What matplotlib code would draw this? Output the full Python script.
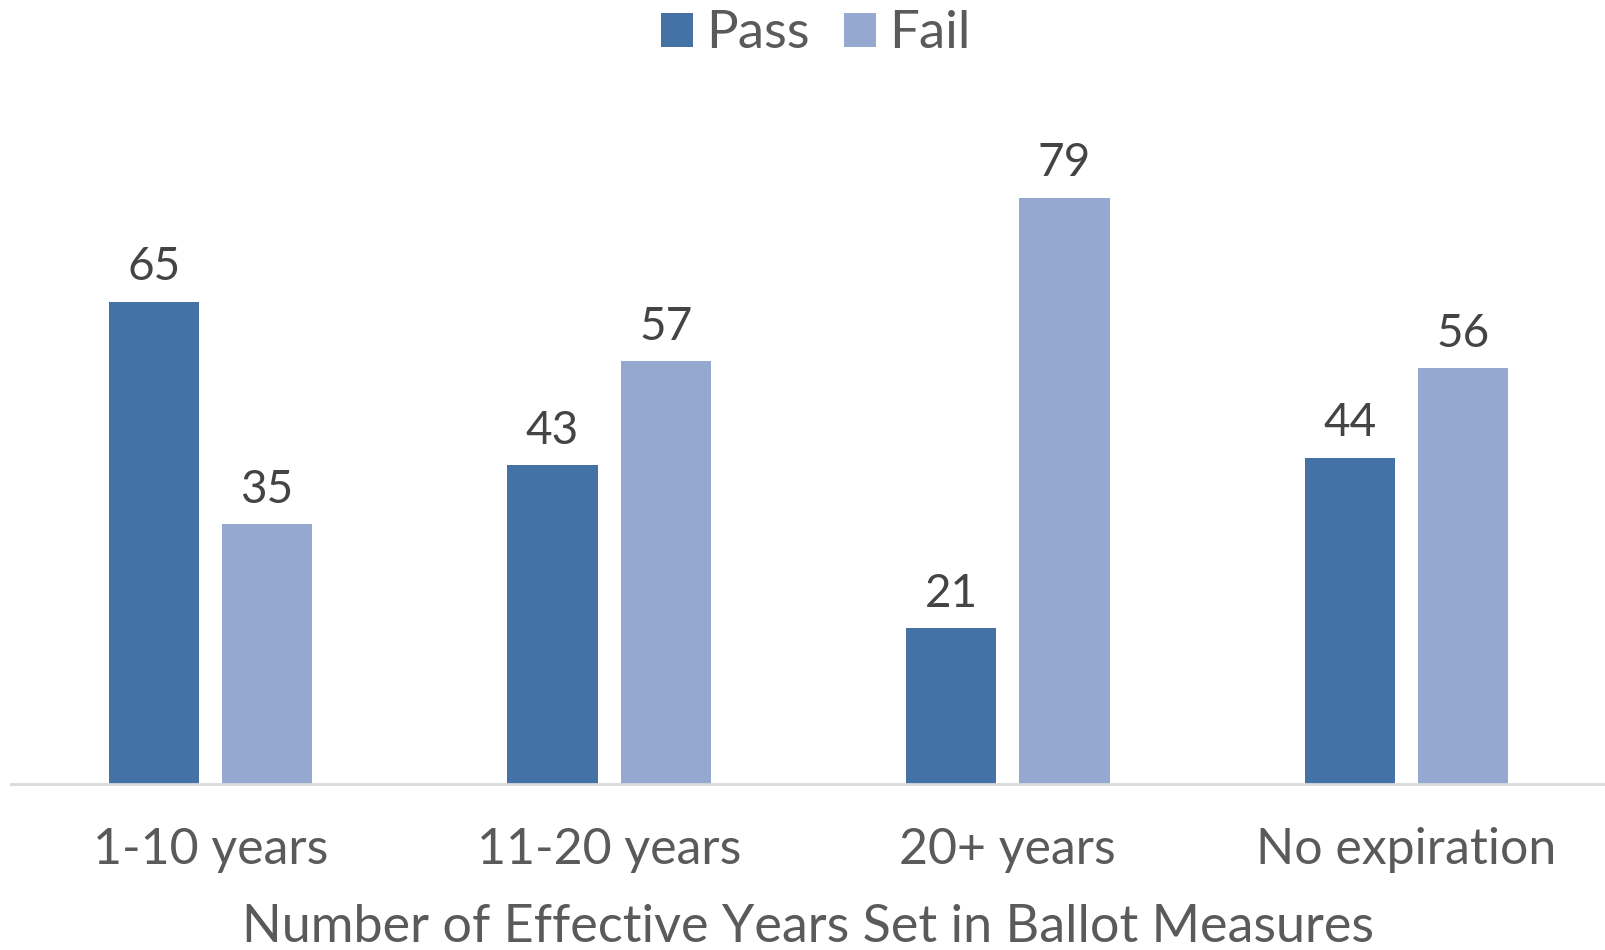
import matplotlib.pyplot as plt
import numpy as np

plt.rcParams['font.family'] = ['Lato', 'DejaVu Sans']

kategoriler = ["1-10 years", "11-20 years", "20+ years", "No expiration"]
gecti = [65, 43, 21, 44]
kaldi = [35, 57, 79, 56]

renk_gecti = "#4472a6"
renk_kaldi = "#95a9d0"
yazi = "#5a5a5a"

fig = plt.figure(figsize=(16.06, 9.5), dpi=100)
ax = fig.add_axes([11 / 1606, 166 / 950, 1595 / 1606, 742 / 950])

x = np.arange(len(kategoriler))
w = 0.226
b1 = ax.bar(x - 0.142, gecti, w, color=renk_gecti, label="Pass")
b2 = ax.bar(x + 0.142, kaldi, w, color=renk_kaldi, label="Fail")

for bars in (b1, b2):
    for b in bars:
        ax.text(b.get_x() + b.get_width() / 2, b.get_height() + 1.8,
                f"{b.get_height():.0f}", ha="center", va="bottom",
                fontsize=33, color="#444444")

ax.set_xlim(-0.5, 3.5)
ax.set_ylim(0, 100)
ax.set_yticks([])
ax.set_xticks(x)
ax.set_xticklabels(kategoriler, fontsize=36, color=yazi)
ax.tick_params(axis="x", length=0, pad=31)
for s in ["top", "right", "left"]:
    ax.spines[s].set_visible(False)
ax.spines["bottom"].set_color("#d9d9d9")
ax.spines["bottom"].set_linewidth(2)

# eksen basligi: taban cizgisi figurun altina yakin
fig.text(0.5 + 11 / 1606 / 2, 8 / 950, "Number of Effective Years Set in Ballot Measures",
         ha="center", va="baseline", fontsize=37.5, color=yazi)

fig.legend(loc="upper center", bbox_to_anchor=(0.508, 1.039), ncol=2, frameon=False,
           handlelength=0.6, handleheight=0.6, handletextpad=0.25,
           columnspacing=0.65, labelcolor=yazi, prop={"size": 38})

fig.savefig("out.png", dpi=100)
